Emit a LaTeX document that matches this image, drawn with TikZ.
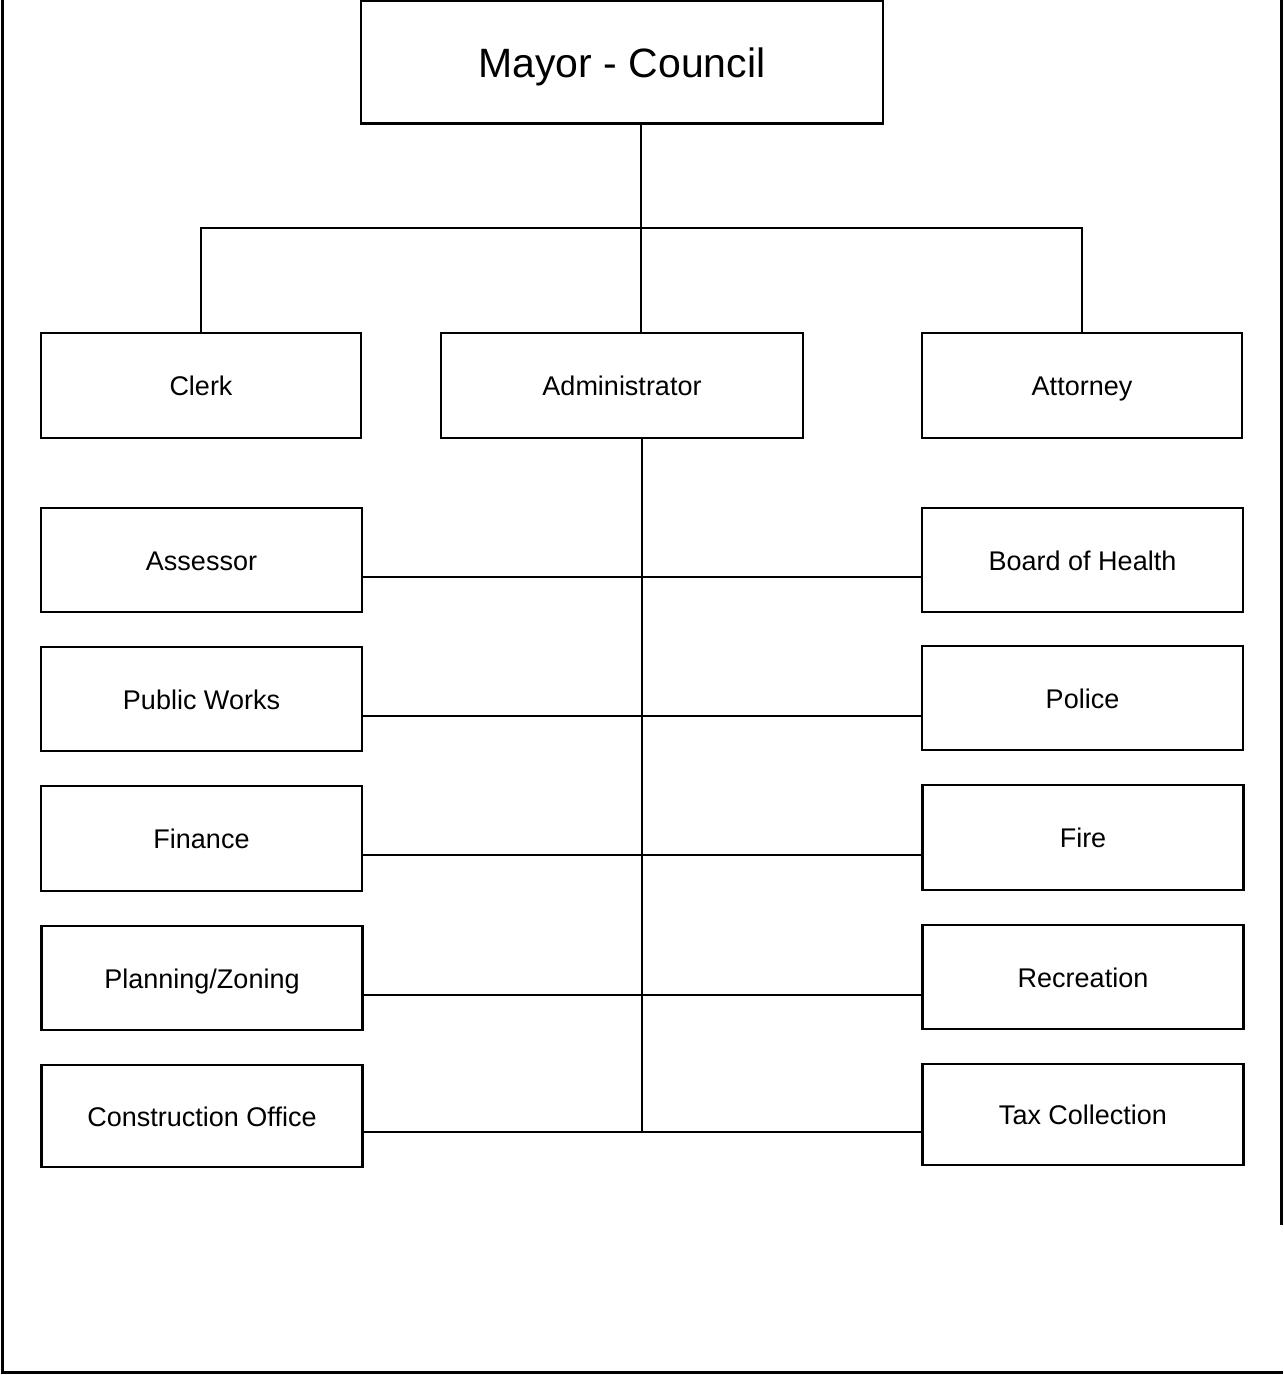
\documentclass[tikz,border=0pt]{standalone}
\usepackage{fontspec}
\setmainfont{Liberation Sans}
\begin{document}
\begin{tikzpicture}[x=1pt,y=-1pt,
  box/.style={draw=black,line width=2.2pt,rectangle,inner sep=0pt,text height=20pt,text depth=0pt,font=\fontsize{27}{32}\selectfont},
  link/.style={draw=black,line width=2.2pt},
  frameline/.style={draw=black,line width=3pt}]
\useasboundingbox (0,0) rectangle (1283,1375);
% outer frame (partial)
\draw[frameline] (2,0) -- (2,1372) -- (1283,1372);
\draw[frameline] (1281,0) -- (1281,1225);
% top
\node[box,minimum width=522pt,minimum height=123pt,text height=31pt,font=\fontsize{41}{48}\selectfont] (mayor) at (622,62) {Mayor - Council};
% second row
\node[box,minimum width=320pt,minimum height=105pt] (clerk) at (201,385.5) {Clerk};
\node[box,minimum width=362pt,minimum height=105pt] (admin) at (622,385.5) {Administrator};
\node[box,minimum width=320pt,minimum height=105pt] (attorney) at (1082,385.5) {Attorney};
% left column
\node[box,minimum width=321pt,minimum height=104pt] (assessor) at (201.5,560) {Assessor};
\node[box,minimum width=321pt,minimum height=104pt] (pubworks) at (201.5,699) {Public Works};
\node[box,minimum width=321pt,minimum height=105pt] (finance) at (201.5,838.5) {Finance};
\node[box,minimum width=321pt,minimum height=104pt] (planning) at (202,978) {Planning/Zoning};
\node[box,minimum width=321pt,minimum height=102pt] (construct) at (202,1116) {Construction Office};
% right column
\node[box,minimum width=321pt,minimum height=104pt] (health) at (1082.5,560) {Board of Health};
\node[box,minimum width=321pt,minimum height=104pt] (police) at (1082.5,698) {Police};
\node[box,minimum width=321pt,minimum height=105pt] (fire) at (1083,837.5) {Fire};
\node[box,minimum width=321pt,minimum height=104pt] (recreation) at (1083,977) {Recreation};
\node[box,minimum width=321pt,minimum height=101pt] (taxcoll) at (1083,1114.5) {Tax Collection};
% junction coordinates
\coordinate (top) at (641,228);
\coordinate (tl) at (201,228);
\coordinate (tr) at (1082,228);
\coordinate (r1) at (642,577);
\coordinate (r2) at (642,716);
\coordinate (r3) at (642,855);
\coordinate (r4) at (642,995);
\coordinate (r5) at (642,1132);
% connectors
\draw[link] (mayor.south -| top) -- (top);
\draw[link] (clerk.north -| tl) -- (tl) -- (tr) -- (attorney.north -| tr);
\draw[link] (top) -- (admin.north -| top);
\draw[link] (admin.south -| r1) -- (r5);
\draw[link] (assessor.east |- r1) -- (health.west |- r1);
\draw[link] (pubworks.east |- r2) -- (police.west |- r2);
\draw[link] (finance.east |- r3) -- (fire.west |- r3);
\draw[link] (planning.east |- r4) -- (recreation.west |- r4);
\draw[link] (construct.east |- r5) -- (taxcoll.west |- r5);
\end{tikzpicture}
\end{document}
